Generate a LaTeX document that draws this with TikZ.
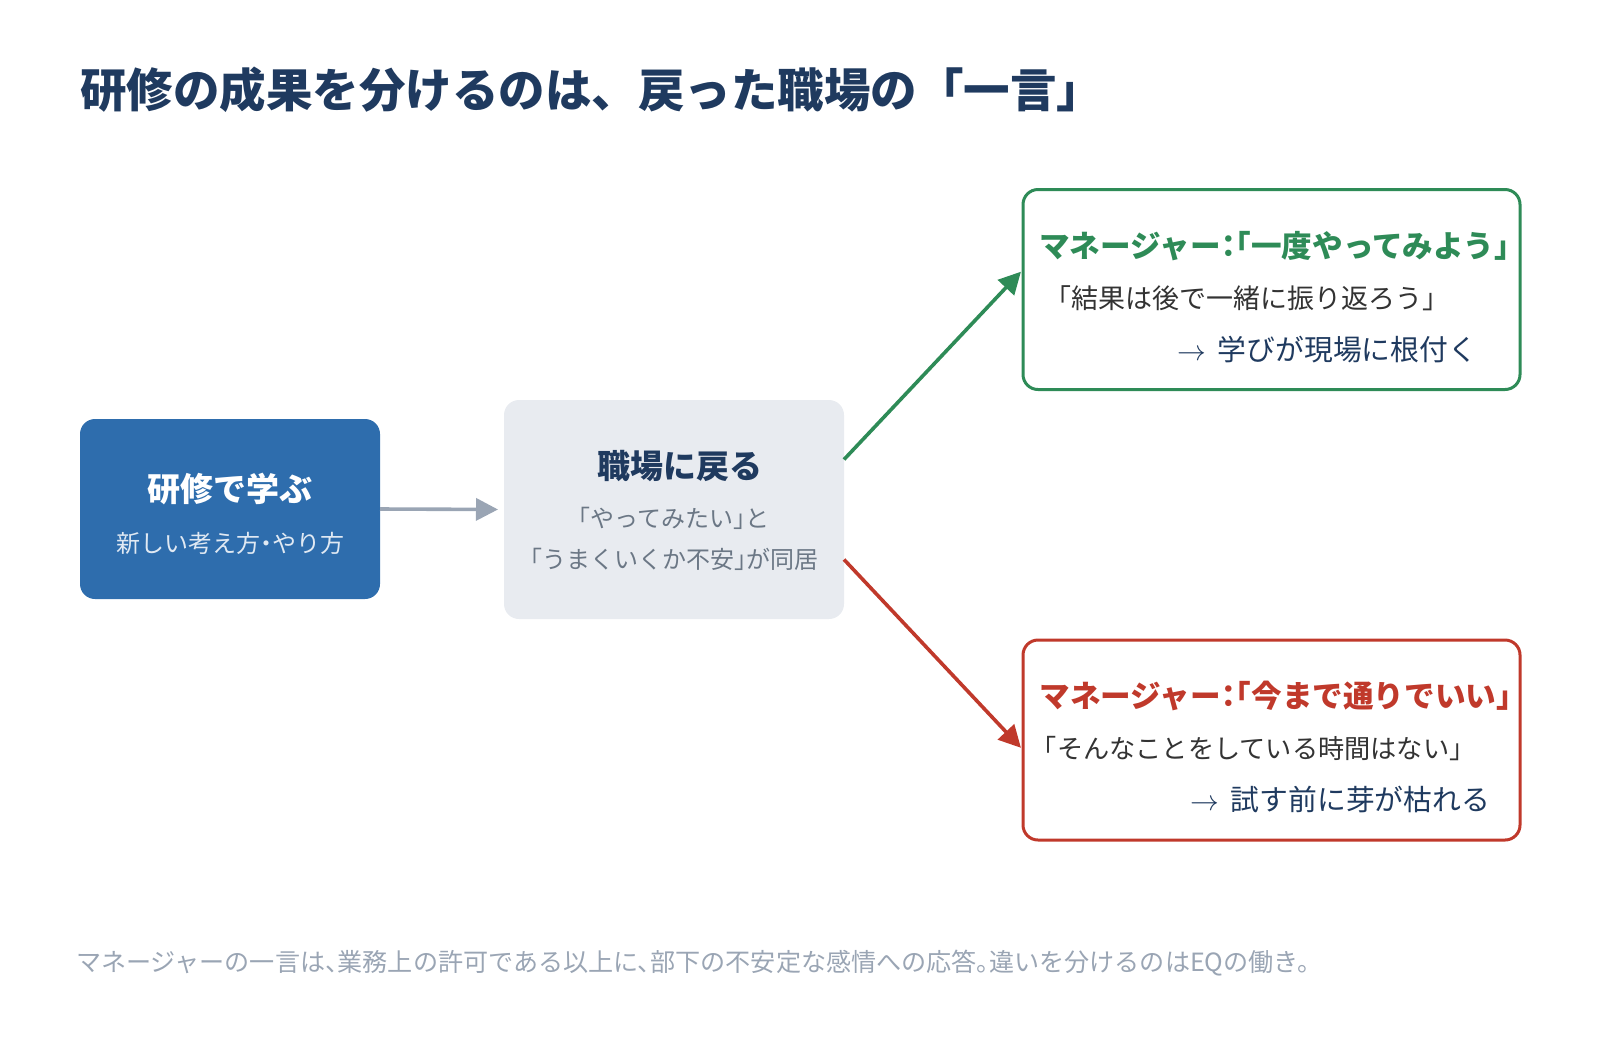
\documentclass[tikz,border=0pt]{standalone}
\usepackage{fontspec}
\setmainfont{Noto Sans CJK JP}[RawFeature=+halt]
\newfontfamily\titlefont{Noto Sans CJK JP}
\usetikzlibrary{arrows.meta}
\definecolor{navy}{HTML}{1F3A5F}
\definecolor{boxblue}{HTML}{2E6DAD}
\definecolor{boxgray}{HTML}{E8EBF0}
\definecolor{arrowgray}{HTML}{9AA5B4}
\definecolor{okgreen}{HTML}{2E8B57}
\definecolor{ngred}{HTML}{C0392B}
\definecolor{subgray}{HTML}{6B7785}
\definecolor{bodytext}{HTML}{333333}
\newcommand{\resultsize}{\fontsize{14.4}{17}\selectfont}
\tikzstyle{stage}=[rounded corners=7.5pt, inner sep=0, outer sep=0]
\tikzstyle{result}=[stage, draw, line width=1.5pt, fill=white, minimum width=248.5pt, minimum height=100pt]
\tikzstyle{txt}=[inner sep=0, outer sep=0, text depth=0pt]
\tikzstyle{flow}=[line width=1.8pt, -{Triangle[length=11pt, width=11pt]}]
\begin{document}
\begin{tikzpicture}[x=0.5pt, y=-0.5pt,
                    % Keep the picture at the reference size.
                    execute at begin picture={\useasboundingbox (0,0) rectangle (1600,1040);}]
  \node[txt, anchor=west, text=navy, font=\titlefont\bfseries\fontsize{23.25}{27}\selectfont] (title) at (80, 87) {研修の成果を分けるのは、戻った職場の「一言」};

  \node[stage, fill=boxblue, minimum width=150pt, minimum height=90pt] (learn) at (230, 509) {};
  \node[txt, text=white, font=\bfseries\fontsize{16.5}{20}\selectfont] (learnhead) at (230, 487) {研修で学ぶ};
  \node[txt, text=white!85!boxblue, font=\fontsize{12}{14}\selectfont] (learnsub) at (230, 542) {新しい考え方・やり方};

  \node[stage, fill=boxgray, minimum width=170pt, minimum height=109.5pt] (back) at (674, 509.5) {};
  \node[txt, text=navy, font=\bfseries\fontsize{16.5}{20}\selectfont] (backhead) at (680, 464) {職場に戻る};
  \node[txt, text=subgray, font=\fontsize{12}{14}\selectfont] (backsub1) at (674, 517) {「やってみたい」と};
  \node[txt, text=subgray, font=\fontsize{12}{14}\selectfont] (backsub2) at (674, 558) {「うまくいくか不安」が同居};

  \node[result, draw=okgreen] (good) at (1271.5, 289.5) {};
  \node[txt, text=okgreen, font=\bfseries\fontsize{15.3}{18}\selectfont] (goodhead) at (1274.5, 244) {マネージャー：「一度やってみよう」};
  \node[txt, anchor=west, text=bodytext, font=\fontsize{13.5}{16}\selectfont] (goodsay) at (1058, 297) {「結果は後で一緒に振り返ろう」};
  \node[txt, anchor=east, text=navy, font=\resultsize] (goodend) at (1477, 348) {$\rightarrow$\, 学びが現場に根付く};

  \node[result, draw=ngred] (bad) at (1271.5, 740) {};
  \node[txt, text=ngred, font=\bfseries\fontsize{15.3}{18}\selectfont] (badhead) at (1275.5, 694) {マネージャー：「今まで通りでいい」};
  \node[txt, anchor=west, text=bodytext, font=\fontsize{13.1}{16}\selectfont] (badsay) at (1044, 747) {「そんなことをしている時間はない」};
  \node[txt, anchor=east, text=navy, font=\resultsize] (badend) at (1490, 798) {$\rightarrow$\, 試す前に芽が枯れる};

  \draw[flow, arrowgray, shorten >=3pt] (learn.east) -- (back.west);
  \draw[flow, okgreen, shorten >=1.5pt] ([yshift=25pt]back.east) -- ([yshift=10pt]good.west);
  \draw[flow, ngred, shorten >=1.5pt] ([yshift=-25pt]back.east) -- ([yshift=-5pt]bad.west);

  \node[txt, anchor=west, text=arrowgray, font=\fontsize{12.55}{15}\selectfont] (note) at (76, 961) {マネージャーの一言は、業務上の許可である以上に、部下の不安定な感情への応答。違いを分けるのはEQの働き。};
\end{tikzpicture}
\end{document}
